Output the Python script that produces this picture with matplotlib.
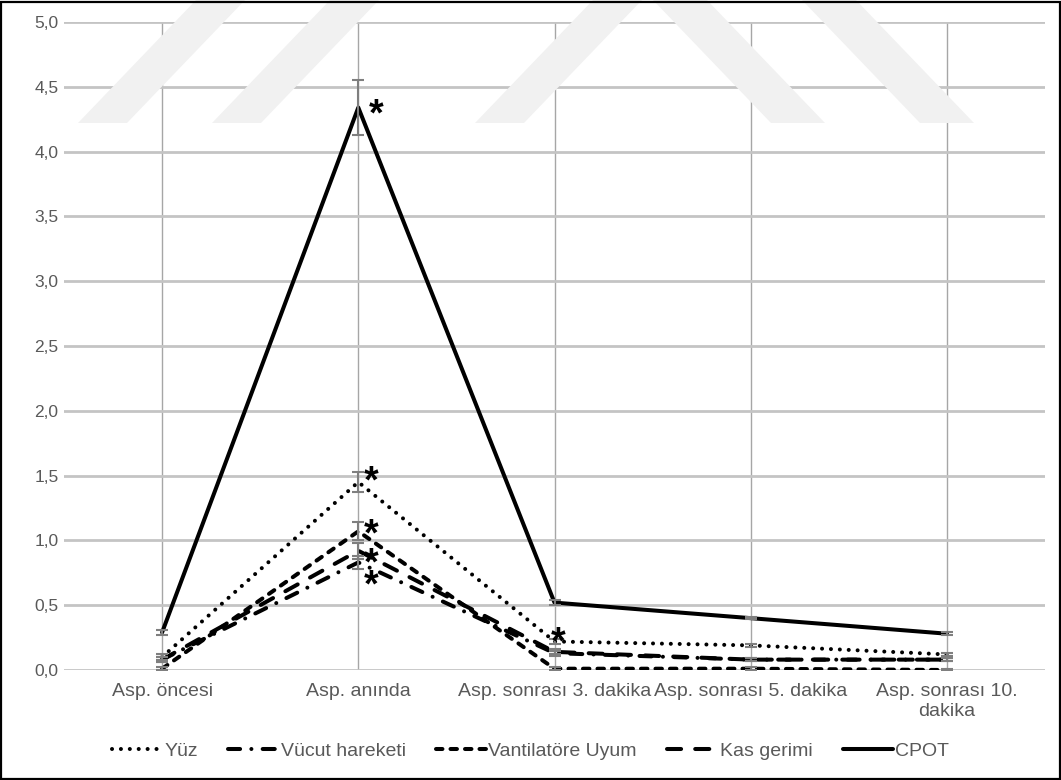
import matplotlib
matplotlib.use("Agg")
import matplotlib.pyplot as plt
from matplotlib.patches import Polygon, Rectangle

plt.rcParams["font.family"] = ["Liberation Sans", "DejaVu Sans"]

categories = ["Asp. öncesi", "Asp. anında", "Asp. sonrası 3. dakika",
              "Asp. sonrası 5. dakika", "Asp. sonrası 10.\ndakika"]

yuz = [0.10, 1.45, 0.22, 0.19, 0.12]
vucut = [0.08, 0.83, 0.13, 0.08, 0.08]
vantilator = [0.01, 1.07, 0.01, 0.01, 0.00]
kas = [0.08, 0.92, 0.14, 0.08, 0.08]
cpot = [0.29, 4.34, 0.52, 0.40, 0.28]

yuz_err = [0.02, 0.08, 0.02, 0.01, 0.01]
vucut_err = [0.02, 0.05, 0.02, 0.01, 0.01]
vantilator_err = [0.01, 0.07, 0.01, 0.01, 0.01]
kas_err = [0.02, 0.06, 0.02, 0.01, 0.01]
cpot_err = [0.02, 0.21, 0.02, 0.01, 0.01]

series_names = ["Yüz", "Vücut hareketi", "Vantilatöre Uyum", "Kas gerimi", "CPOT"]
yticks = [0.0, 0.5, 1.0, 1.5, 2.0, 2.5, 3.0, 3.5, 4.0, 4.5, 5.0]

# significance marks: (category index, value at which "*" sits, x offset in points)
star_marks = [(1, 4.36, 13), (1, 1.53, 9.5), (1, 1.12, 9.5),
              (1, 0.90, 9.5), (1, 0.73, 9.5), (2, 0.29, 2.5)]

W, H = 1061, 780
fig = plt.figure(figsize=(W / 100, H / 100), dpi=100)

# faint background emblem stripes
wm_color = "#f1f1f1"
stripes = [
    [(78, 123), (127, 123), (245, 0), (196, 0)],
    [(212, 123), (261, 123), (379, 0), (330, 0)],
    [(475, 123), (524, 123), (642, 0), (593, 0)],
    [(771, 123), (825, 123), (707, 0), (653, 0)],
    [(920, 123), (974, 123), (856, 0), (802, 0)],
]
for pts in stripes:
    fig.patches.append(Polygon([(x / W, 1 - y / H) for x, y in pts],
                               closed=True, transform=fig.transFigure,
                               facecolor=wm_color, edgecolor="none", zorder=0))

ax = fig.add_axes([64 / W, (H - 670) / H, (1045 - 64) / W, (670 - 22) / H])
ax.patch.set_alpha(0)

x = list(range(len(categories)))
lw = 2.9
line_kw = dict(color="black", lw=lw, solid_capstyle="round",
               dash_capstyle="round", solid_joinstyle="round", zorder=3)

ax.plot(x, yuz, linestyle=(0, (0.01, 2.2)), label=series_names[0], **line_kw)
ax.plot(x, vucut, linestyle=(0, (3.0, 2.8, 0.01, 2.8)), label=series_names[1], **line_kw)
ax.plot(x, vantilator, linestyle=(0, (1.6, 2.0)), label=series_names[2], **line_kw)
ax.plot(x, kas, linestyle=(0, (3.5, 3.5)), label=series_names[3], **line_kw)
ax.plot(x, cpot, linestyle="-", label=series_names[4], **line_kw)

for vals, errs in [(yuz, yuz_err), (vucut, vucut_err), (vantilator, vantilator_err),
                   (kas, kas_err), (cpot, cpot_err)]:
    ax.errorbar(x, vals, yerr=errs, fmt="none", ecolor="#7f7f7f",
                elinewidth=1.5, capsize=4, capthick=1.5, zorder=4)

star_size = 27
for i, yv, dx in star_marks:
    ax.annotate("*", xy=(i, yv), xytext=(dx, -0.56 * star_size),
                textcoords="offset points", fontsize=star_size,
                fontweight="bold", ha="center", va="baseline",
                color="black", zorder=5)

ax.set_xlim(-0.5, len(categories) - 0.5)
ax.set_ylim(0, 5)
ax.set_yticks(yticks)
ax.set_yticklabels([f"{v:.1f}".replace(".", ",") for v in yticks])
ax.set_xticks(x)
ax.set_xticklabels(categories, linespacing=1.25)

ax.grid(axis="y", color="#c4c4c4", lw=2.0, zorder=1)
ax.grid(axis="x", color="#a6a6a6", lw=1.0, zorder=1)
ax.set_axisbelow(True)
for s in ax.spines.values():
    s.set_visible(False)
ax.tick_params(axis="both", length=0, labelcolor="#595959")
ax.tick_params(axis="x", pad=9, labelsize=14)
ax.tick_params(axis="y", pad=4, labelsize=12.5)

leg = fig.legend(loc="lower center", bbox_to_anchor=(0.5, 0.003), ncol=5,
                 frameon=False, fontsize=14, handlelength=2.6,
                 handletextpad=0.1, columnspacing=1.55)
for t in leg.get_texts():
    t.set_color("#595959")

fig.patches.append(Rectangle((0.001, 0.001), 0.998, 0.997, transform=fig.transFigure,
                             fill=False, edgecolor="black", lw=1.6, zorder=10))

fig.savefig("out.png", dpi=100)
